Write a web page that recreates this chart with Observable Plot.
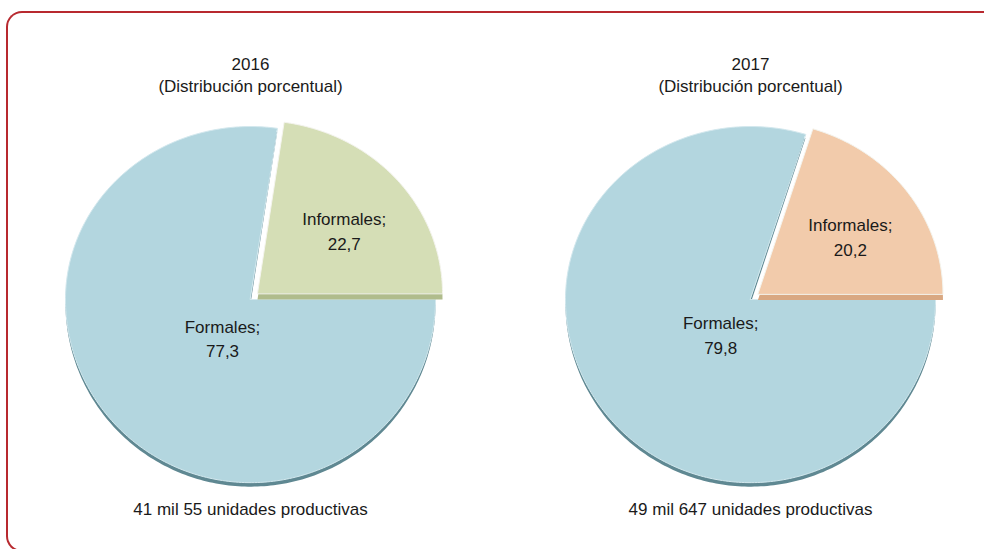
<!DOCTYPE html>
<html><head><meta charset="utf-8">
<script src="https://cdn.jsdelivr.net/npm/d3@7"></script>
<script src="https://cdn.jsdelivr.net/npm/@observablehq/plot@0.6"></script>
<style>
html,body{margin:0;padding:0;background:#fff;overflow:hidden;}
#wrap{position:relative;width:984px;height:549px;overflow:hidden;font-family:"Liberation Sans",Arial,sans-serif;}
#frame{position:absolute;left:6px;top:11px;width:1000px;height:541px;border-top:2px solid #b8292f;border-left:2px solid #b8292f;border-bottom:2px solid #b8292f;border-right:none;border-radius:16px 0 0 16px;box-sizing:border-box;}
#chart{position:absolute;left:0;top:0;}
</style></head><body>
<div id="wrap"><div id="frame"></div><div id="chart"></div></div>
<script>
// ---- data ----
const years = ["2016", "2017"];
const categories = ["Formales", "Informales"];
const formales = [77.3, 79.8];
const informales = [22.7, 20.2];
const totals = ["41 mil 55 unidades productivas", "49 mil 647 unidades productivas"];
const subtitle = "(Distribución porcentual)";

// ---- styles ----
const sliceFill = {"2016-Formales": "#b3d6df", "2016-Informales": "#d5deb6", "2017-Formales": "#b3d6df", "2017-Informales": "#f2cbab"};
const sliceShadow = {"2016-Formales": "#5f8892", "2016-Informales": "#b0bc8c", "2017-Formales": "#5f8892", "2017-Informales": "#d9a882"};
const sliceStroke = {"Formales": "#d3e8ee", "Informales": "#f4f4ee"};

// ---- geometry helpers (unit pie, perspective-squashed top) ----
const ryTop = 0.935, ryBot = 0.99, explode = 0.05;
const fmt = v => v.toFixed(1).replace(".", ",");
function pt(a) {
  const s = Math.sin(a), c = Math.cos(a);
  return [s, c * (c > 0 ? ryTop : ryBot)];
}
const poly = [];
const labels = [];
years.forEach((year, i) => {
  const vals = [formales[i], informales[i]];
  const arcs = d3.pie().sort(null).startAngle(Math.PI / 2).endAngle(Math.PI / 2 + 2 * Math.PI)(vals);
  arcs.forEach((arc, j) => {
    const cat = categories[j];
    const key = year + "-" + cat;
    const mid = (arc.startAngle + arc.endAngle) / 2;
    const ex = j === 1 ? explode : 0;
    const ox = ex * Math.sin(mid), oy = ex * Math.cos(mid);
    const n = Math.ceil((arc.endAngle - arc.startAngle) / (Math.PI / 180));
    poly.push({year, key, cat, x: ox, y: oy});
    for (let k = 0; k <= n; k++) {
      const a = arc.startAngle + (arc.endAngle - arc.startAngle) * k / n;
      const [x, y] = pt(a);
      poly.push({year, key, cat, x: x + ox, y: y + oy});
    }
    const fx = j === 1 ? 0.62 : 0.20, fy = j === 1 ? 0.53 : 0.31;
    labels.push({year, text: cat + ";\n" + fmt(arc.value), x: ox + fx * Math.sin(mid), y: oy + fy * Math.cos(mid)});
  });
});
const polyF = poly.filter(d => d.cat === "Formales");
const polyI = poly.filter(d => d.cat === "Informales");

const R = 185, H = 549, CY = 299;
const chart = Plot.plot({
  width: 984,
  height: H,
  marginLeft: 40,
  marginRight: 24,
  marginTop: 0,
  marginBottom: 0,
  fx: {domain: years, paddingInner: 0.16, paddingOuter: 0, axis: null},
  x: {domain: [-210 / R, 210 / R], axis: null},
  y: {domain: [-(H - CY) / R, CY / R], axis: null},
  color: {type: "identity"},
  style: {fontFamily: "'Liberation Sans', Arial, sans-serif", background: "transparent", overflow: "visible"},
  marks: [
    Plot.line(polyF, {x: "x", y: "y", z: "key", fx: "year", fill: d => sliceShadow[d.key], stroke: null, curve: "linear-closed", dy: 4}),
    Plot.line(polyF, {x: "x", y: "y", z: "key", fx: "year", fill: d => sliceFill[d.key], stroke: d => sliceStroke[d.cat], strokeWidth: 1, curve: "linear-closed"}),
    Plot.line(polyI, {x: "x", y: "y", z: "key", fx: "year", fill: d => sliceShadow[d.key], stroke: null, curve: "linear-closed", dy: 6}),
    Plot.line(polyI, {x: "x", y: "y", z: "key", fx: "year", fill: d => sliceFill[d.key], stroke: d => sliceStroke[d.cat], strokeWidth: 1, curve: "linear-closed"}),
    Plot.text(labels, {x: "x", y: "y", fx: "year", text: "text", fontSize: 17, fill: "#1a1a1a", lineHeight: 1.45, lineAnchor: "middle"}),
    Plot.text(years, {fx: d => d, text: d => d + "\n" + subtitle, frameAnchor: "top", lineAnchor: "top", dy: 54, fontSize: 17, lineHeight: 1.3, fill: "#1a1a1a"}),
    Plot.text(years, {fx: d => d, text: (d, i) => totals[i], frameAnchor: "bottom", lineAnchor: "middle", dy: -40, fontSize: 17, fill: "#1a1a1a"})
  ]
});
document.getElementById("chart").appendChild(chart);
</script>
</body></html>
